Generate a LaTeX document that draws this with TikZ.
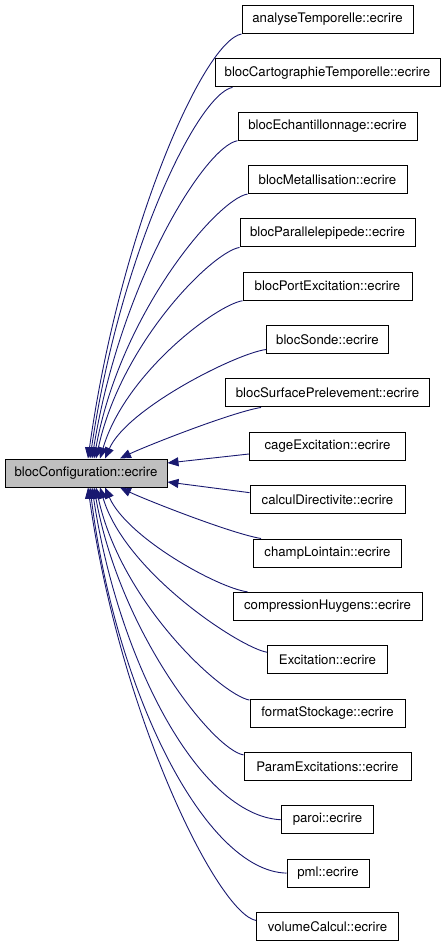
\documentclass[tikz,border=0pt]{standalone}
\usepackage{fontspec}
\setmainfont{TeX Gyre Heros}
\usetikzlibrary{arrows.meta}
\definecolor{edgeblue}{RGB}{25,25,112}
\definecolor{boxgray}{RGB}{191,191,191}
\begin{document}
\begin{tikzpicture}[x=1pt,y=-1pt,
  box/.style={draw=black, line width=1pt, minimum height=28pt, inner sep=0pt,
              font=\fontsize{13.2}{15}\selectfont, fill=white},
  edge/.style={draw=edgeblue, line width=0.9pt, -{Triangle[length=11pt,width=9pt]}},
]
\useasboundingbox (0,0) rectangle (445,947);
\node[box, fill=boxgray, minimum width=162pt] (L) at (86,473) {blocConfiguration::ecrire};

\node[box, minimum width=171pt] (n1)  at (327.5,19.5)   {analyseTemporelle::ecrire};
\node[box, minimum width=225pt] (n2)  at (327.5,72.85)  {blocCartographieTemporelle::ecrire};
\node[box, minimum width=179pt] (n3)  at (327.5,126.2)  {blocEchantillonnage::ecrire};
\node[box, minimum width=159pt] (n4)  at (327.5,179.55) {blocMetallisation::ecrire};
\node[box, minimum width=175pt] (n5)  at (327.5,232.9)  {blocParallelepipede::ecrire};
\node[box, minimum width=169pt] (n6)  at (327.5,286.25) {blocPortExcitation::ecrire};
\node[box, minimum width=122pt] (n7)  at (327.5,339.6)  {blocSonde::ecrire};
\node[box, minimum width=204pt] (n8)  at (327.5,392.95) {blocSurfacePrelevement::ecrire};
\node[box, minimum width=156pt] (n9)  at (327.5,446.3)  {cageExcitation::ecrire};
\node[box, minimum width=155pt] (n10) at (327.5,499.65) {calculDirectivite::ecrire};
\node[box, minimum width=148pt] (n11) at (327.5,553)    {champLointain::ecrire};
\node[box, minimum width=189pt] (n12) at (327.5,606.35) {compressionHuygens::ecrire};
\node[box, minimum width=120pt] (n13) at (327.5,659.7)  {Excitation::ecrire};
\node[box, minimum width=155pt] (n14) at (327.5,713.05) {formatStockage::ecrire};
\node[box, minimum width=167pt] (n15) at (327.5,766.4)  {ParamExcitations::ecrire};
\node[box, minimum width=92pt]  (n16) at (327.5,819.75) {paroi::ecrire};
\node[box, minimum width=82pt]  (n17) at (328,873.1)    {pml::ecrire};
\node[box, minimum width=142pt] (n18) at (327.5,926.45) {volumeCalcul::ecrire};

% upper edges
\draw[edge] (n1.south west) .. controls +(-38,7) and +(32,-229) .. ([xshift=2pt]L.north);
\draw[edge] ([xshift=18pt]n2.south west) .. controls +(-35,7) and +(30,-205) .. ([xshift=4pt]L.north);
\draw[edge] (n3.south west) .. controls +(-33,6) and +(28,-175) .. ([xshift=6pt]L.north);
\draw[edge] (n4.south west) .. controls +(-30,5) and +(26,-145) .. ([xshift=8pt]L.north);
\draw[edge] (n5.south west) .. controls +(-28,5) and +(25,-115) .. ([xshift=10pt]L.north);
\draw[edge] (n6.south west) .. controls +(-26,4) and +(25,-85) .. ([xshift=14pt]L.north);
\draw[edge] ([yshift=4.6pt]n7.south west) .. controls +(-30,4) and +(22,-50) .. ([xshift=19pt]L.north);
\draw[edge] ([xshift=36pt]n8.south west) .. controls +(-30,5) and +(25,-12) .. ([xshift=34pt]L.north);
% side edges
\draw[edge] ([yshift=-7.7pt]n9.west) -- ([yshift=10pt]L.east);
\draw[edge] ([yshift=7pt]n10.west) -- ([yshift=-9pt]L.east);
% lower edges
\draw[edge] ([xshift=8pt]n11.north west) .. controls +(-30,-5) and +(25,12) .. ([xshift=34pt]L.south);
\draw[edge] ([xshift=15pt]n12.north west) .. controls +(-30,-4) and +(22,50) .. ([xshift=19pt]L.south);
\draw[edge] ([yshift=-7pt]n13.north west) .. controls +(-26,-4) and +(25,85) .. ([xshift=14pt]L.south);
\draw[edge] ([yshift=-1.5pt]n14.north west) .. controls +(-28,-5) and +(25,115) .. ([xshift=10pt]L.south);
\draw[edge] ([yshift=-3pt]n15.north west) .. controls +(-30,-5) and +(26,145) .. ([xshift=8pt]L.south);
\draw[edge] (n16.west) .. controls +(-82,-4) and +(26,173) .. ([xshift=6pt]L.south);
\draw[edge] (n17.west) .. controls +(-82,-2) and +(25,203) .. ([xshift=4pt]L.south);
\draw[edge] ([yshift=-8.5pt]n18.north west) .. controls +(-38,-7) and +(32,229) .. ([xshift=2pt]L.south);
\end{tikzpicture}
\end{document}
